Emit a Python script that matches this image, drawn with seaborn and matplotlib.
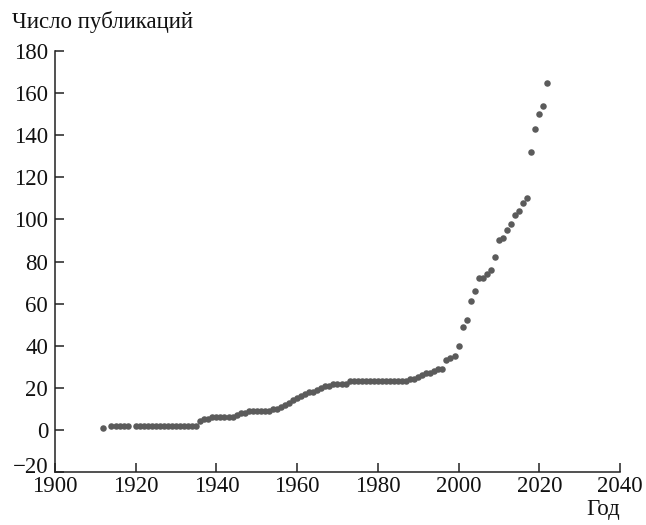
import numpy as np
import pandas as pd
import matplotlib
matplotlib.use("Agg")
import matplotlib.pyplot as plt
import matplotlib.transforms as mtransforms
import seaborn as sns

# publication counts by year
years = [1912] + list(range(1914, 1919)) + list(range(1920, 2023))
counts = [1,
          2, 2, 2, 2, 2,
          2, 2, 2, 2, 2, 2, 2, 2, 2, 2, 2, 2, 2, 2, 2, 2,   # 1920-1935
          4, 5, 5, 6, 6, 6, 6, 6, 6,                        # 1936-1944
          7, 8, 8, 9, 9, 9, 9, 9, 9,                        # 1945-1953
          10, 10, 11, 12, 13, 14, 15, 16, 17, 18,           # 1954-1963
          18, 19, 20, 21, 21, 22, 22, 22, 22,               # 1964-1972
          23, 23, 23, 23, 23, 23, 23, 23, 23, 23, 23, 23, 23, 23, 23,  # 1973-1987
          24, 24, 25, 26, 27, 27, 28, 29, 29,               # 1988-1996
          33, 34, 35, 40, 49, 52, 61, 66, 72, 72,           # 1997-2006
          74, 76, 82, 90, 91, 95, 98, 102, 104, 108,        # 2007-2016
          110, 132, 143, 150, 154, 165]                     # 2017-2022

x_ticks = list(range(1900, 2041, 20))
y_ticks = list(range(-20, 181, 20))
y_label = "Число публикаций"
x_label = "Год"

df = pd.DataFrame({"year": years, "count": counts})

sns.set_style("white")
plt.rcParams["font.family"] = ["Liberation Serif", "DejaVu Serif"]

fig = plt.figure(figsize=(6.46, 5.25), dpi=100)
ax = fig.add_axes([55 / 646, 53 / 525, 565 / 646, 421 / 525])

sns.scatterplot(data=df, x="year", y="count", ax=ax, color="#5b5b5b",
                s=22, linewidth=0, legend=False)

ax.set_xlim(1900, 2040)
ax.set_ylim(-20, 180)
ax.set_xticks(x_ticks)
ax.set_yticks(y_ticks)
ax.set_yticklabels([str(v).replace("-", "\u2212") for v in y_ticks])
ax.set_xlabel("")
ax.set_ylabel("")

for side in ["top", "right"]:
    ax.spines[side].set_visible(False)
for side in ["left", "bottom"]:
    ax.spines[side].set_linewidth(1.1)
    ax.spines[side].set_color("#222222")

ax.tick_params(bottom=True, left=True, direction="in", length=6.5, width=1.1,
               color="#222222", labelsize=16.5, labelcolor="#111111")
ax.tick_params(axis="y", pad=5)
ax.tick_params(axis="x", pad=3)

# nudge the -20 label up a little, as in the original
lab = ax.get_yticklabels()[0]
lab.set_transform(lab.get_transform() + mtransforms.ScaledTranslation(0, 5 / 72, fig.dpi_scale_trans))

fig.text(12 / 646, 1 - 22 / 525, y_label, fontsize=16.5, color="#111111",
         ha="left", va="center")
fig.text(620 / 646, 1 - 510 / 525, x_label, fontsize=16.5, color="#111111",
         ha="right", va="center")

fig.savefig("out.png", dpi=100)
